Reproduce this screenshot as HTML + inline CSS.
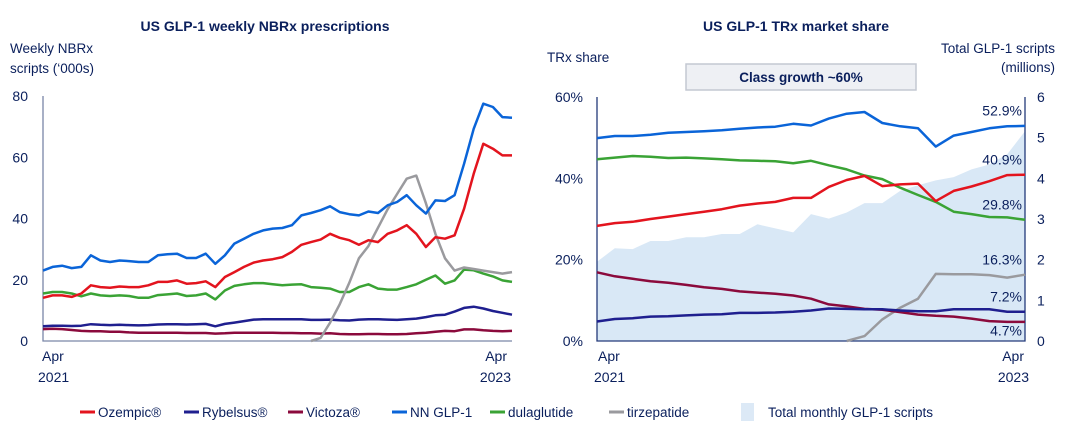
<!DOCTYPE html>
<html><head><meta charset="utf-8"><style>
body{margin:0;background:#fff;width:1080px;height:438px;overflow:hidden;font-family:"Liberation Sans",sans-serif;}
svg text{font-family:"Liberation Sans",sans-serif;fill:#0a1f5c;}
</style></head><body>
<svg id="c" width="1080" height="438">
<text x="265" y="31" text-anchor="middle" font-size="14" font-weight="bold">US GLP-1 weekly NBRx prescriptions</text>
<text x="796" y="31" text-anchor="middle" font-size="14" font-weight="bold">US GLP-1 TRx market share</text>
<text x="10" y="53" font-size="13.5">Weekly NBRx</text>
<text x="10" y="73" font-size="13.5">scripts (‘000s)</text>
<text x="547" y="62" font-size="13.5">TRx share</text>
<text x="1055" y="53" text-anchor="end" font-size="13.5">Total GLP-1 scripts</text>
<text x="1055" y="72" text-anchor="end" font-size="13.5">(millions)</text>
<rect x="686" y="64" width="230" height="26" fill="#eef0f4" stroke="#c4c8d2" stroke-width="1.5"/>
<text x="801" y="82" text-anchor="middle" font-size="13.5" font-weight="bold">Class growth ~60%</text>
<g id="L"></g><g id="R"></g><g id="leg"></g>
</svg>
<script>
// Left chart data (biweekly samples, '000s)
const leftTicks=[0,20,40,60,80];
const nnGlp1=[23,24.2,24.6,23.8,24.2,28,26.3,25.8,26.3,26.1,25.8,25.8,28,28.3,28.5,27.1,27.1,28.5,25.2,28,31.8,33.4,35,36.1,36.7,36.9,37.8,41,41.8,42.7,44,42.1,41.4,41,42.3,41.8,44.3,45.4,47.6,44.3,41.6,45.9,45.7,47.6,57.9,69.3,77.5,76.4,73.1,72.9];
const ozempicL=[14.1,14.9,14.9,14.4,15.5,18.2,17.6,17.4,17.8,17.6,17.6,18.2,19.3,19.3,19.8,18.7,18.9,19.5,17.6,20.9,22.5,24.2,25.6,26.3,26.7,27.4,29.1,31.4,32.3,33.1,35,33.7,32.9,31.4,32.9,32.3,35,36.1,37.8,35,30.7,33.9,33.4,34.5,43.2,54.6,64.4,62.8,60.6,60.6];
const dulaL=[15.5,16,16,15.5,14.6,15.5,14.9,14.7,14.9,14.7,14.1,14.1,15,15.2,15.5,14.7,14.9,15.5,13.6,16.5,18,18.5,18.9,18.9,18.5,18.2,18.4,18.5,17.6,17.4,17.1,16,16,17.6,18.5,17.1,16.8,16.8,17.6,18.5,20,21.4,18.7,19.8,23.3,23.1,22,21.1,19.8,19.3];
const rybL=[4.8,5,5,4.9,5,5.5,5.3,5.2,5.3,5.2,5.1,5.2,5.4,5.5,5.5,5.4,5.5,5.6,4.8,5.6,6,6.5,7,7.1,7.1,7.1,7.1,7.1,6.9,6.9,7,6.8,6.7,7,7.1,7.1,7,6.9,7.1,7.3,7.8,8.4,8.6,9.6,10.8,11.2,10.6,9.8,9.2,8.6];
const vicL=[3.9,4,3.9,3.6,3.3,3.2,3.2,3,3,2.8,2.7,2.7,2.7,2.7,2.7,2.6,2.6,2.6,2.4,2.5,2.7,2.7,2.7,2.7,2.7,2.6,2.6,2.5,2.5,2.4,2.5,2.3,2.2,2.2,2.3,2.3,2.2,2.2,2.3,2.5,2.7,3,3.3,3.2,3.8,3.8,3.5,3.3,3.2,3.3];
const tirzL=[null,null,null,null,null,null,null,null,null,null,null,null,null,null,null,null,null,null,null,null,null,null,null,null,null,null,null,null,0,1,6,12,19,27,31,37,43,48,53,54,45,35,27,23,24,23.5,23,22.5,22,22.5];
// Right chart data (monthly, % share and millions)
const rightTicks=[0,20,40,60];
const rightTicks2=[0,1,2,3,4,5,6];
const totalScripts=[1.95,2.28,2.26,2.46,2.46,2.55,2.55,2.63,2.63,2.87,2.77,2.67,3.12,3.01,3.16,3.39,3.39,3.69,3.83,3.95,4.03,4.22,4.34,4.59,5.16];
const nnShare=[49.9,50.4,50.4,50.7,51.2,51.4,51.6,51.8,52.2,52.5,52.7,53.4,53,54.7,55.9,56.3,53.6,52.8,52.3,47.8,50.5,51.4,52.3,52.8,52.9];
const dulaShare=[44.7,45.1,45.5,45.3,45,45.1,44.9,44.7,44.4,44.3,44.2,43.7,44.3,43.2,42.2,40.7,39.8,37.7,35.9,34.2,31.8,31.2,30.5,30.4,29.8];
const ozeShare=[28.3,29,29.3,30,30.6,31.2,31.8,32.4,33.3,33.8,34.2,35.2,35.2,37.9,39.6,40.6,38.1,38.5,38.7,34.4,36.9,38,39.3,40.8,40.9];
const vicShare=[16.9,15.9,15.3,14.7,14.3,13.8,13.2,12.8,12.2,11.9,11.6,11.2,10.4,9,8.5,7.9,7.7,7.1,6.5,6.2,6,5.5,4.9,4.7,4.7];
const rybShare=[4.8,5.4,5.6,6,6.1,6.3,6.5,6.6,6.9,6.9,7,7.2,7.5,8,7.9,7.8,7.8,7.5,7.3,7.3,7.8,7.8,7.8,7.2,7.2];
const tirzShare=[null,null,null,null,null,null,null,null,null,null,null,null,null,null,0,1.2,5.3,8.2,10.4,16.5,16.4,16.4,16.2,15.6,16.3];
const endLabels=["52.9%","40.9%","29.8%","16.3%","7.2%","4.7%"];

const NS="http://www.w3.org/2000/svg";
const COL={oze:"#e3141e",ryb:"#1f1f8f",vic:"#8b0a3c",nn:"#0a64d8",dula:"#3aa335",tirz:"#9a9a9e"};
function mk(p,tag,at){const e=document.createElementNS(NS,tag);for(const k in at)e.setAttribute(k,at[k]);p.appendChild(e);return e;}
function path(xf,yf,arr){let d="",pen=false;arr.forEach((v,i)=>{if(v===null){pen=false;return;}d+=(pen?"L":"M")+xf(i).toFixed(1)+","+yf(v).toFixed(1);pen=true;});return d;}

// LEFT
const L=document.getElementById("L");
const lx0=43,lx1=512,ly0=341,ly1=96;
const lx=i=>lx0+(lx1-lx0)*i/(nnGlp1.length-1);
const ly=v=>ly0-(ly0-ly1)*v/80;
leftTicks.forEach(t=>{const e=mk(L,"text",{x:28,y:ly(t)+5,"text-anchor":"end","font-size":"14"});e.textContent=t;

});
const la=mk(L,"path",{d:`M${lx0},${ly1}V${ly0}H${lx1}`,stroke:"#7a86a8","stroke-width":1.3,fill:"none"});


[["vic",vicL],["ryb",rybL],["dula",dulaL],["tirz",tirzL],["oze",ozempicL],["nn",nnGlp1]].forEach(([k,a])=>{
const p=mk(L,"path",{d:path(lx,ly,a),stroke:COL[k],"stroke-width":2.5,fill:"none","stroke-linejoin":"round"});

});
[[lx0,"start","Apr","2021",38],[lx1,"end","Apr","2023",511]].forEach(([x,an,a,b,x2],j)=>{
const t1=mk(L,"text",{x:j?507:42,y:361,"text-anchor":an,"font-size":"14"});t1.textContent=a;


const t2=mk(L,"text",{x:x2,y:382,"text-anchor":an,"font-size":"14"});t2.textContent=b;

});

// RIGHT
const R=document.getElementById("R");
const rx0=597,rx1=1025,ry0=341,ry1=97;
const rx=i=>rx0+(rx1-rx0)*i/(nnShare.length-1);
const ry=v=>ry0-(ry0-ry1)*v/60;
const ry2=v=>ry0-(ry0-ry1)*v/6;
const area=mk(R,"path",{d:path(rx,ry2,totalScripts)+`L${rx1},${ry0}L${rx0},${ry0}Z`,fill:"#d9e8f6"});


rightTicks.forEach(t=>{const e=mk(R,"text",{x:583,y:ry(t)+5,"text-anchor":"end","font-size":"14"});e.textContent=t+"%";

});
rightTicks2.forEach(t=>{const e=mk(R,"text",{x:1037,y:ry2(t)+5,"font-size":"14"});e.textContent=t;

});
const ra=mk(R,"path",{d:`M${rx0},${ry1}V${ry0}H${rx1}V${ry1}`,stroke:"#243a7a","stroke-width":1.3,fill:"none"});


[["tirz",tirzShare],["vic",vicShare],["ryb",rybShare],["dula",dulaShare],["oze",ozeShare],["nn",nnShare]].forEach(([k,a])=>{
const p=mk(R,"path",{d:path(rx,ry,a),stroke:COL[k],"stroke-width":2.5,fill:"none","stroke-linejoin":"round"});

});
const labY=[nnShare[24]+2.5,ozeShare[24]+2.5,dulaShare[24]+2.5,tirzShare[24]+2.5,rybShare[24]+2.5,vicShare[24]-3.4];
endLabels.forEach((s,i)=>{const e=mk(R,"text",{x:1022,y:ry(labY[i]),"text-anchor":"end","font-size":"14"});e.textContent=s;

});
[[597,"start","Apr",598,"2021",594],[1025,"end","Apr",1024,"2023",1029]].forEach(([x,an,a,xa,b,xb],j)=>{
const t1=mk(R,"text",{x:xa,y:361,"text-anchor":an,"font-size":"14"});t1.textContent=a;


const t2=mk(R,"text",{x:xb,y:382,"text-anchor":an,"font-size":"14"});t2.textContent=b;

});

// LEGEND
const G=document.getElementById("leg");
const legNames=["Ozempic®","Rybelsus®","Victoza®","NN GLP-1","dulaglutide","tirzepatide"];
const legKeys=["oze","ryb","vic","nn","dula","tirz"];
const legX=[80,184,288,392,490,609];
legNames.forEach((n,i)=>{
const l=mk(G,"line",{x1:legX[i],x2:legX[i]+15,y1:412,y2:412,stroke:COL[legKeys[i]],"stroke-width":3});


const t=mk(G,"text",{x:legX[i]+18,y:417,"font-size":"13.5"});t.textContent=n;

});
const sq=mk(G,"rect",{x:741,y:403,width:13,height:18,fill:"#dce9f6"});


const st=mk(G,"text",{x:768,y:417,"font-size":"13.5"});st.textContent="Total monthly GLP-1 scripts";


</script>
</body></html>
